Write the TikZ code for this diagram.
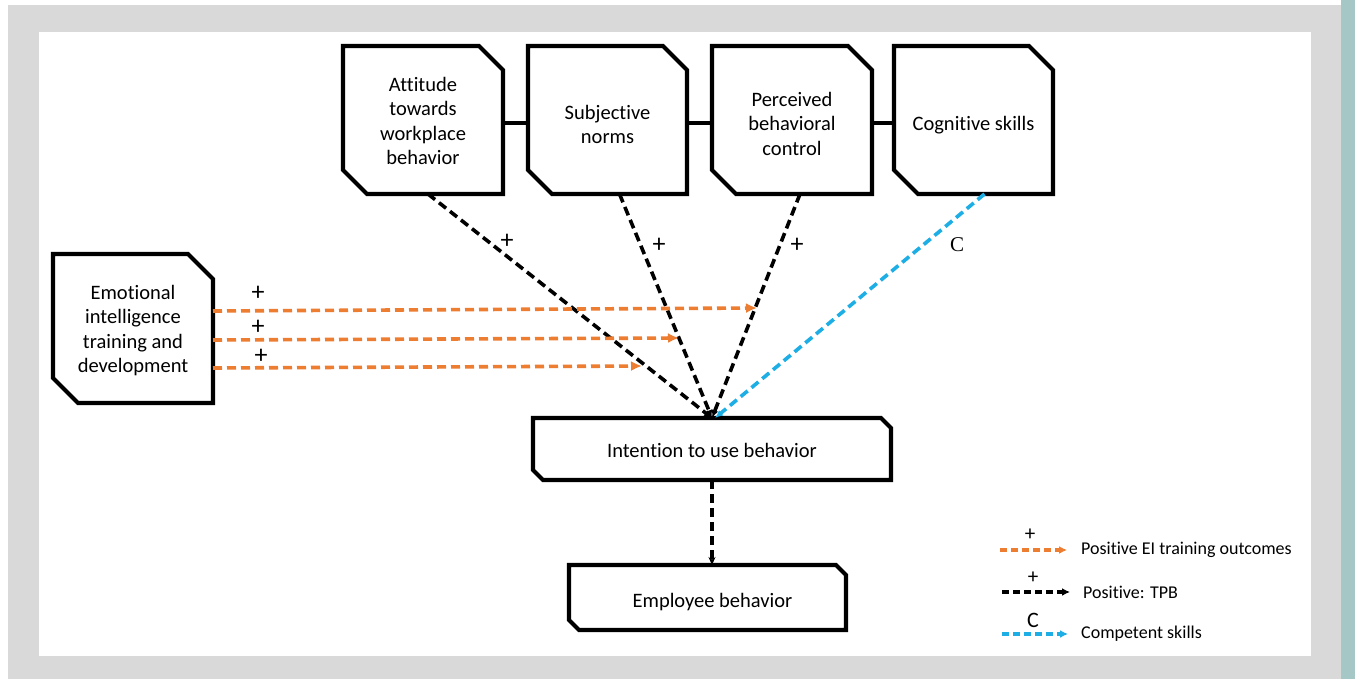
\documentclass[tikz,border=0pt]{standalone}
\usepackage{fontspec}
\setmainfont{Carlito}[Ligatures=NoCommon]
\newfontfamily\serifC{Liberation Serif}
\usetikzlibrary{arrows.meta}
\definecolor{panelgray}{HTML}{D9D9D9}
\definecolor{sidebar}{HTML}{A5C8C6}
\definecolor{eiorange}{HTML}{ED7D31}
\definecolor{skillblue}{HTML}{1CAEE4}

% outline with the north-east and south-west corners cut off
\newcommand\chamferbox[2]{%
  \draw[boxline] (#1.north west) -- ([xshift=-#2]#1.north east)
    -- ([yshift=-#2]#1.north east) -- (#1.south east)
    -- ([xshift=#2]#1.south west) -- ([yshift=#2]#1.south west) -- cycle;}

\tikzset{
  box/.style={inner sep=0pt, outer sep=0pt, align=center,
    font=\fontsize{20.5}{24.5}\selectfont},
  boxline/.style={draw=black, line width=4.2pt, line join=miter},
  link/.style={draw=black, line width=4.2pt},
  tpb/.style={draw=black, line width=3.6pt, dash pattern=on 9pt off 5pt,
    -{Latex[length=8pt,width=7pt]}},
  skill/.style={draw=skillblue, line width=3.6pt, dash pattern=on 9pt off 5pt,
    -{Latex[length=8pt,width=7pt]}},
  ei/.style={draw=eiorange, line width=3.6pt, dash pattern=on 9pt off 5pt,
    -{Latex[length=11pt,width=10pt]}, eiorange},
  legline/.style={line width=3.2pt, dash pattern=on 7pt off 4pt,
    -{Latex[length=8pt,width=8pt]}},
  sign/.style={inner sep=0pt, font=\fontsize{26}{26}\selectfont},
  legsign/.style={inner sep=0pt, font=\fontsize{21}{21}\selectfont},
  legtext/.style={inner sep=0pt, anchor=west, font=\fontsize{18}{20}\selectfont},
}

\begin{document}
\begin{tikzpicture}[x=1pt, y=-1pt]
\useasboundingbox (0,0) rectangle (1355,679);

% page background
\fill[white] (0,0) rectangle (1355,679);
\fill[panelgray] (8,5) rectangle (1341,679);
\fill[white] (39,32) rectangle (1311,656);
\fill[sidebar] (1341,0) rectangle (1355,679);

% constructs (outline nodes; labels placed at their own centres)
\node[box, minimum width=160pt, minimum height=148pt] (att) at (423,120) {};
\node[box, minimum width=159pt, minimum height=148pt] (sub) at (607.5,120) {};
\node[box, minimum width=160pt, minimum height=148pt] (per) at (792,120) {};
\node[box, minimum width=159pt, minimum height=148pt] (cog) at (973.5,120) {};
\node[box, minimum width=160pt, minimum height=149pt] (emo) at (133,328.5) {};
\node[box, minimum width=358pt, minimum height=62pt] (int) at (712,449) {};
\node[box, minimum width=277pt, minimum height=65pt] (emp) at (707.5,597.5) {};

\node[box] (attl) at ([yshift=-1]att.center) {Attitude\\towards\\workplace\\behavior};
\node[box] (subl) at ([yshift=-4.5]sub.center) {Subjective\\norms};
\node[box] (perl) at ([yshift=-3.5]per.center) {Perceived\\behavioral\\control};
\node[box] (cogl) at ([yshift=-5.5]cog.center) {Cognitive skills};
\node[box] (emol) at ([yshift=-2]emo.center) {Emotional\\intelligence\\training and\\development};
\node[box] (intl) at ([yshift=-1.5]int.center) {Intention to use behavior};
\node[box] (empl) at ([xshift=5,yshift=-4.5]emp.center) {Employee behavior};

\chamferbox{att}{24}
\chamferbox{sub}{24}
\chamferbox{per}{24}
\chamferbox{cog}{24}
\chamferbox{emo}{25}
\chamferbox{int}{10}
\chamferbox{emp}{10}

% links between the top constructs
\draw[link] ([yshift=-3]att.east) -- ([yshift=-3]sub.west);
\draw[link] ([yshift=-3]sub.east) -- ([yshift=-3]per.west);
\draw[link] ([yshift=-3]per.east) -- ([yshift=-3]cog.west);

% theory of planned behaviour paths
\draw[tpb] ([xshift=5]att.south) -- (int.north);
\draw[tpb] ([xshift=12]sub.south) -- (int.north);
\draw[tpb] ([xshift=8]per.south) -- (int.north);
\draw[skill] ([xshift=11]cog.south) -- ([xshift=3]int.north);
\node[sign] (s1) at (507,241) {+};
\node[sign] (s2) at (659,245) {+};
\node[sign] (s3) at (797,245) {+};
\node[sign, font=\serifC\fontsize{21}{21}\selectfont] (sc) at (957,245) {C};

% EI training outcomes
\coordinate (e1) at (757,308);
\coordinate (e2) at (679,338);
\coordinate (e3) at (642,366);
\draw[ei] ([yshift=17.5]emo.east) -- (e1);
\draw[ei] ([yshift=-11.5]emo.east) -- (e2);
\draw[ei] ([yshift=-39.5]emo.east) -- (e3);
\node[sign] (p1) at (258,293) {+};
\node[sign] (p2) at (258,327) {+};
\node[sign] (p3) at (261,356) {+};

% intention to behaviour
\draw[tpb, -{Stealth[length=8pt,width=7pt]}] (int.south) -- (int.south |- emp.north);

% legend
\coordinate (l1a) at (1000,550); \coordinate (l1b) at (1067,550);
\coordinate (l2a) at (1002,592); \coordinate (l2b) at (1070,592);
\coordinate (l3a) at (1002,634); \coordinate (l3b) at (1068,634);
\draw[legline, draw=eiorange, eiorange] (l1a) -- (l1b);
\draw[legline, draw=black] (l2a) -- (l2b);
\draw[legline, draw=skillblue, skillblue] (l3a) -- (l3b);
\node[legsign] (g1) at (1030,535) {+};
\node[legsign] (g2) at (1033,578) {+};
\node[legsign, font=\fontsize{22}{22}\selectfont] (g3) at (1033,620) {C};
\node[legtext] (t1) at (1081,550) {Positive EI training outcomes};
\node[legtext] (t2) at (1083,592) {Positive: TPB};
\node[legtext] (t3) at (1081,634) {Competent skills};
\end{tikzpicture}
\end{document}
